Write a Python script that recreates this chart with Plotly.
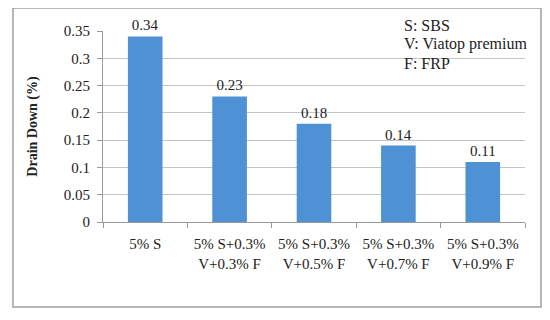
import plotly.graph_objects as go

categories = ["5% S", "5% S+0.3%<br>V+0.3% F", "5% S+0.3%<br>V+0.5% F",
              "5% S+0.3%<br>V+0.7% F", "5% S+0.3%<br>V+0.9% F"]
values = [0.34, 0.23, 0.18, 0.14, 0.11]
value_labels = ["0.34", "0.23", "0.18", "0.14", "0.11"]
tick_vals = [0, 0.05, 0.1, 0.15, 0.2, 0.25, 0.3, 0.35]
tick_text = ["0", "0.05", "0.1", "0.15", "0.2", "0.25", "0.3", "0.35"]
legend_lines = ["S: SBS", "V: Viatop premium", "F: FRP"]

FONT = "Liberation Serif"

fig = go.Figure()
fig.add_trace(go.Bar(
    x=categories, y=values,
    text=value_labels, textposition="outside",
    textfont=dict(family=FONT, size=15, color="#222"),
    marker=dict(color="#4f91d5", line=dict(width=0)),
    width=0.41, cliponaxis=False,
))

annots = []
for i, line in enumerate(legend_lines):
    annots.append(dict(xref="paper", yref="paper", x=0.7085,
                       y=[1.031, 0.932, 0.832][i],
                       xanchor="left", yanchor="middle", align="left",
                       showarrow=False, text=line,
                       font=dict(family=FONT, size=16, color="#222")))

fig.update_layout(
    width=542, height=312,
    margin=dict(l=95, r=25, t=23, b=98),
    paper_bgcolor="white", plot_bgcolor="white",
    showlegend=False,
    font=dict(family=FONT, size=15, color="#222"),
    xaxis=dict(showline=True, linecolor="#9a9a9a", linewidth=1,
               ticks="outside", ticklen=5, tickcolor="#9a9a9a",
               tickson="boundaries", showgrid=False,
               ticklabelstandoff=8,
               tickfont=dict(family=FONT, size=15, color="#222")),
    yaxis=dict(range=[0, 0.35], tickvals=tick_vals, ticktext=tick_text,
               showline=True, linecolor="#9a9a9a", linewidth=1,
               ticks="outside", ticklen=5, tickcolor="#9a9a9a",
               showgrid=True, gridcolor="#c4c4c4", gridwidth=1,
               zeroline=False, ticklabelstandoff=4,
               tickfont=dict(family=FONT, size=15, color="#222"),
               title=dict(text="<b>Drain Down (%)</b>",
                          font=dict(family=FONT, size=14, color="#222"),
                          standoff=22)),
    shapes=[dict(type="rect", xref="paper", yref="paper",
                 x0=-0.2133, x1=1.0379, y0=-0.445, y1=1.1204,
                 line=dict(color="#a0a0a0", width=1.5), fillcolor="rgba(0,0,0,0)",
                 layer="below")],
    annotations=annots,
)

fig.write_html("out.html")
